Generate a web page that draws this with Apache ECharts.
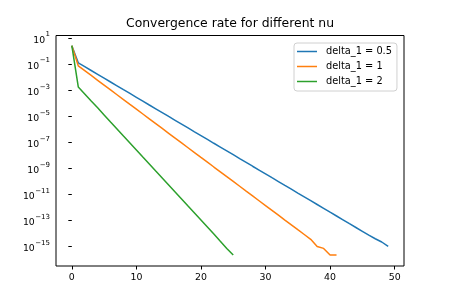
<!DOCTYPE html>
<html>
<head>
<meta charset="utf-8">
<script src="https://cdn.jsdelivr.net/npm/echarts@6/dist/echarts.min.js"></script>
<style>html,body{margin:0;padding:0;background:#fff}#c{width:449px;height:299px}</style>
</head>
<body>
<div id="c"></div>
<script>
const titleText = 'Convergence rate for different nu';
const seriesNames = ['delta_1 = 0.5', 'delta_1 = 1', 'delta_1 = 2'];
const seriesColors = ['#1f77b4', '#ff7f0e', '#2ca02c'];

// error at iteration k (index = iteration)
const errDelta05 = [2.6, 1.26e-1, 6.4e-2, 3.25e-2, 1.65e-2, 8.4e-3, 4.27e-3, 2.17e-3, 1.10e-3, 5.6e-4,
  2.84e-4, 1.45e-4, 7.3e-5, 3.73e-5, 1.90e-5, 9.6e-6, 4.9e-6, 2.49e-6, 1.26e-6, 6.4e-7,
  3.27e-7, 1.66e-7, 8.4e-8, 4.3e-8, 2.18e-8, 1.11e-8, 5.6e-9, 2.86e-9, 1.45e-9, 7.4e-10,
  3.75e-10, 1.9e-10, 9.7e-11, 4.9e-11, 2.5e-11, 1.27e-11, 6.5e-12, 3.3e-12, 1.67e-12, 8.5e-13,
  4.3e-13, 2.19e-13, 1.11e-13, 5.6e-14, 2.87e-14, 1.46e-14, 7.4e-15, 3.9e-15, 2.2e-15, 1.0e-15];
const errDelta1 = [2.6, 7.4e-2, 3.16e-2, 1.35e-2, 5.75e-3, 2.45e-3, 1.05e-3, 4.47e-4, 1.91e-4, 8.1e-5,
  3.47e-5, 1.48e-5, 6.3e-6, 2.69e-6, 1.15e-6, 4.9e-7, 2.09e-7, 8.9e-8, 3.8e-8, 1.62e-8,
  6.9e-9, 2.95e-9, 1.26e-9, 5.4e-10, 2.29e-10, 9.8e-11, 4.2e-11, 1.78e-11, 7.6e-12, 3.24e-12,
  1.38e-12, 5.9e-13, 2.51e-13, 1.07e-13, 4.6e-14, 1.95e-14, 8.3e-15, 3.55e-15, 1.0e-15, 7.1e-16,
  2.22e-16, 2.22e-16];
const errDelta2 = [2.6, 1.78e-3, 5.1e-4, 1.48e-4, 4.4e-5, 1.26e-5, 3.6e-6, 1.05e-6, 3.0e-7, 8.9e-8,
  2.57e-8, 7.4e-9, 2.14e-9, 6.2e-10, 1.82e-10, 5.2e-11, 1.51e-11, 4.4e-12, 1.26e-12, 3.7e-13,
  1.07e-13, 3.1e-14, 8.9e-15, 2.5e-15, 7.1e-16, 2.22e-16];

const xTicks = [0, 10, 20, 30, 40, 50];
const yTicks = [1e1, 1e-1, 1e-3, 1e-5, 1e-7, 1e-9, 1e-11, 1e-13, 1e-15];

function powLabel(v) {
  const e = Math.round(Math.log10(v));
  return '{b|10}{s|' + String(e).replace('-', '\u2212') + '}';
}

const allSeries = [errDelta05, errDelta1, errDelta2];
const font = 'DejaVu Sans';

const chart = echarts.init(document.getElementById('c'), null, {renderer: 'canvas'});
chart.setOption({
  animation: false,
  backgroundColor: '#fff',
  graphic: [{
    type: 'text', x: 230, y: 30,
    style: {text: titleText, font: '12.4px "DejaVu Sans"', fill: '#000', textAlign: 'center', textVerticalAlign: 'bottom'}
  }],
  grid: {left: 56, top: 35.5, right: 45, bottom: 33, show: true, borderColor: '#000', borderWidth: 1, backgroundColor: 'transparent'},
  legend: {
    orient: 'vertical', left: 294, top: 43,
    padding: [3, 5, 4, 3], itemGap: 4, itemWidth: 20, itemHeight: 1.5,
    icon: 'rect',
    backgroundColor: 'rgba(255,255,255,0.8)', borderColor: '#d0d0d0', borderWidth: 1, borderRadius: 3,
    textStyle: {fontFamily: font, fontSize: 9.8, color: '#000', padding: [0, 0, 0, 4], lineHeight: 11},
    data: seriesNames
  },
  xAxis: {
    type: 'value', min: -2.45, max: 51.45,
    axisLine: {show: false},
    splitLine: {show: false},
    axisTick: {show: true, length: 3.5, lineStyle: {color: '#000'}, customValues: xTicks},
    axisLabel: {fontFamily: font, fontSize: 9.4, color: '#000', margin: 7, customValues: xTicks}
  },
  yAxis: {
    type: 'log', logBase: 10, min: Math.pow(10, -16.5), max: Math.pow(10, 1.2),
    axisLine: {show: false},
    splitLine: {show: false},
    axisTick: {show: true, length: 3.5, lineStyle: {color: '#000'}, customValues: yTicks},
    axisLabel: {color: '#000', margin: 6, customValues: yTicks,
      formatter: v => powLabel(v),
      rich: {
        b: {fontFamily: font, fontSize: 9.3, color: '#000', lineHeight: 14, verticalAlign: 'bottom'},
        s: {fontFamily: font, fontSize: 7, color: '#000', lineHeight: 9, verticalAlign: 'top', padding: [0, 0, 0, 0.5]}
      }}
  },
  series: allSeries.map((arr, s) => ({
    name: seriesNames[s], type: 'line', symbol: 'none',
    lineStyle: {width: 1.5, color: seriesColors[s]},
    itemStyle: {color: seriesColors[s]},
    data: arr.map((v, i) => [i, v])
  }))
});
</script>
</body>
</html>
